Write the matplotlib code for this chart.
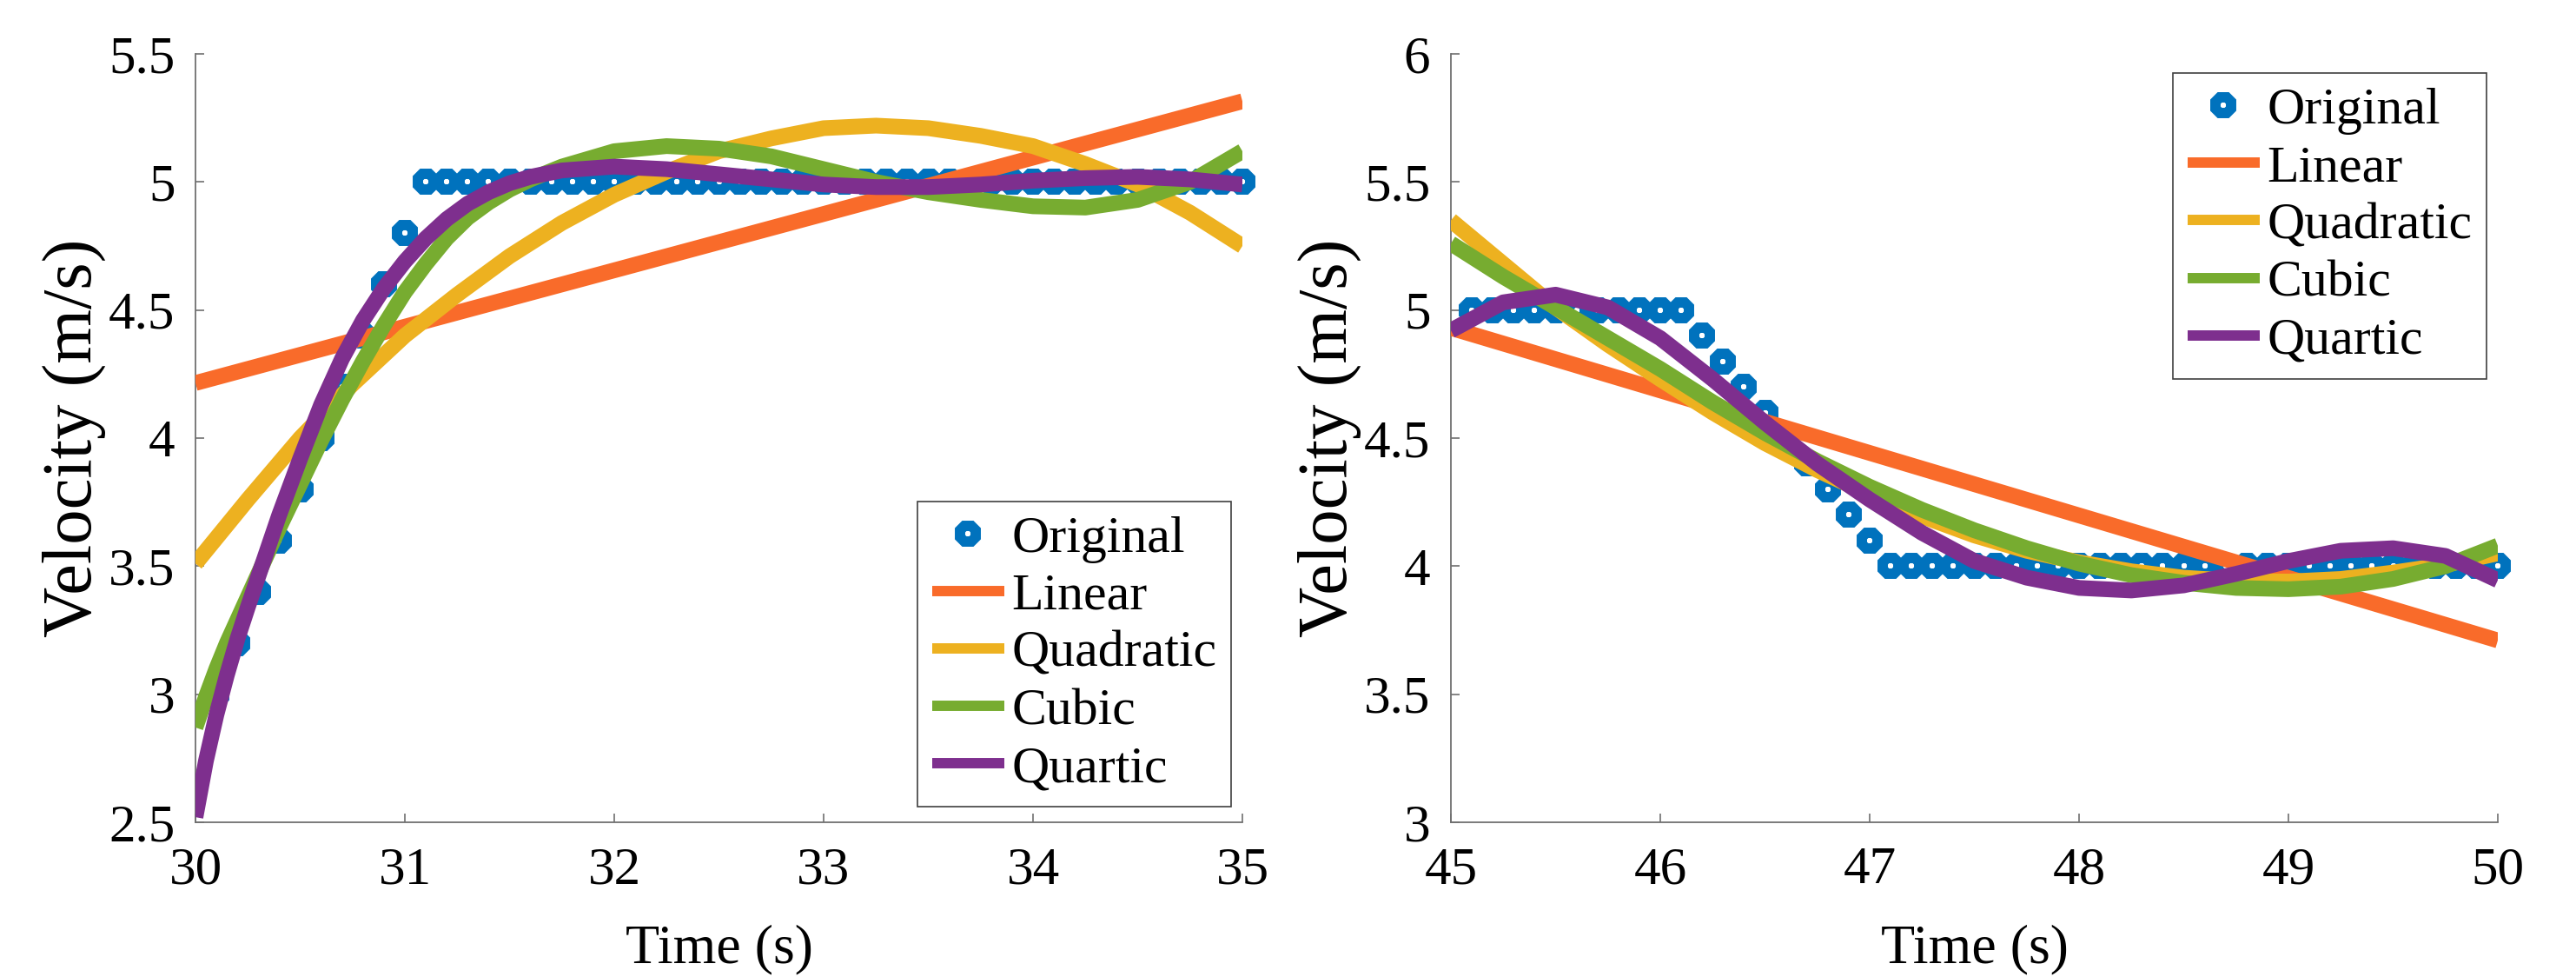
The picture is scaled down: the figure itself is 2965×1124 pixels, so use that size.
import matplotlib
matplotlib.use("Agg")
import matplotlib.pyplot as plt

# ---------------- data ----------------
left_time = [30.1, 30.2, 30.3, 30.4, 30.5, 30.6, 30.7, 30.8, 30.9, 31.0,
             31.1, 31.2, 31.3, 31.4, 31.5, 31.6, 31.7, 31.8, 31.9, 32.0,
             32.1, 32.2, 32.3, 32.4, 32.5, 32.6, 32.7, 32.8, 32.9, 33.0,
             33.1, 33.2, 33.3, 33.4, 33.5, 33.6, 33.7, 33.8, 33.9, 34.0,
             34.1, 34.2, 34.3, 34.4, 34.5, 34.6, 34.7, 34.8, 34.9, 35.0]
left_vel = [3.0, 3.2, 3.4, 3.6, 3.8, 4.0, 4.2, 4.4, 4.6, 4.8,
            5.0, 5.0, 5.0, 5.0, 5.0, 5.0, 5.0, 5.0, 5.0, 5.0,
            5.0, 5.0, 5.0, 5.0, 5.0, 5.0, 5.0, 5.0, 5.0, 5.0,
            5.0, 5.0, 5.0, 5.0, 5.0, 5.0, 5.0, 5.0, 5.0, 5.0,
            5.0, 5.0, 5.0, 5.0, 5.0, 5.0, 5.0, 5.0, 5.0, 5.0]

left_lin_t = [30.0, 35.0]
left_lin_v = [4.215, 5.315]

left_quad_t = [30.0, 30.25, 30.5, 30.75, 31.0, 31.25, 31.5, 31.75, 32.0, 32.25,
               32.5, 32.75, 33.0, 33.25, 33.5, 33.75, 34.0, 34.25, 34.5, 34.75, 35.0]
left_quad_v = [3.51, 3.76, 4.00, 4.21, 4.40, 4.56, 4.71, 4.84, 4.95, 5.04,
               5.12, 5.17, 5.21, 5.22, 5.21, 5.18, 5.14, 5.07, 4.99, 4.88, 4.75]

left_poly_t = [30.0, 30.05, 30.1, 30.15, 30.2, 30.25, 30.3, 30.4, 30.5, 30.6,
               30.7, 30.8, 30.9, 31.0, 31.1, 31.2, 31.3, 31.4, 31.5, 31.6,
               31.75, 32.0, 32.25, 32.5, 32.75, 33.0, 33.25, 33.5, 33.75, 34.0,
               34.25, 34.5, 34.75, 35.0]
left_cubic_v = [2.87, 2.99, 3.10, 3.20, 3.29, 3.38, 3.47, 3.65, 3.82, 3.99,
                4.15, 4.30, 4.44, 4.57, 4.68, 4.78, 4.86, 4.92, 4.97, 5.01,
                5.06, 5.12, 5.14, 5.13, 5.10, 5.05, 5.00, 4.96, 4.93, 4.905,
                4.90, 4.93, 5.00, 5.12]
left_quartic_v = [2.52, 2.74, 2.92, 3.075, 3.215, 3.34, 3.46, 3.70, 3.92, 4.13,
                  4.31, 4.46, 4.585, 4.69, 4.78, 4.855, 4.915, 4.96, 4.995, 5.02,
                  5.045, 5.06, 5.05, 5.03, 5.01, 4.99, 4.98, 4.98, 4.99, 5.005,
                  5.015, 5.02, 5.01, 4.99]

right_time = [45.1, 45.2, 45.3, 45.4, 45.5, 45.6, 45.7, 45.8, 45.9, 46.0,
              46.1, 46.2, 46.3, 46.4, 46.5, 46.6, 46.7, 46.8, 46.9, 47.0,
              47.1, 47.2, 47.3, 47.4, 47.5, 47.6, 47.7, 47.8, 47.9, 48.0,
              48.1, 48.2, 48.3, 48.4, 48.5, 48.6, 48.7, 48.8, 48.9, 49.0,
              49.1, 49.2, 49.3, 49.4, 49.5, 49.6, 49.7, 49.8, 49.9, 50.0]
right_vel = [5.0, 5.0, 5.0, 5.0, 5.0, 5.0, 5.0, 5.0, 5.0, 5.0,
             5.0, 4.9, 4.8, 4.7, 4.6, 4.5, 4.4, 4.3, 4.2, 4.1,
             4.0, 4.0, 4.0, 4.0, 4.0, 4.0, 4.0, 4.0, 4.0, 4.0,
             4.0, 4.0, 4.0, 4.0, 4.0, 4.0, 4.0, 4.0, 4.0, 4.0,
             4.0, 4.0, 4.0, 4.0, 4.0, 4.0, 4.0, 4.0, 4.0, 4.0]

right_lin_t = [45.0, 50.0]
right_lin_v = [4.93, 3.71]

right_poly_t = [45.0, 45.25, 45.5, 45.75, 46.0, 46.25, 46.5, 46.75, 47.0, 47.25,
                47.5, 47.75, 48.0, 48.25, 48.5, 48.75, 49.0, 49.25, 49.5, 49.75, 50.0]
right_quad_v = [5.35, 5.18, 5.01, 4.865, 4.73, 4.60, 4.48, 4.375, 4.28, 4.195,
                4.12, 4.06, 4.015, 3.98, 3.955, 3.942, 3.94, 3.95, 3.975, 4.005, 4.05]
right_cubic_v = [5.26, 5.13, 5.01, 4.89, 4.77, 4.64, 4.52, 4.41, 4.31, 4.22,
                 4.14, 4.07, 4.01, 3.965, 3.935, 3.915, 3.91, 3.92, 3.95, 4.00, 4.08]
right_quartic_v = [4.92, 5.03, 5.06, 5.01, 4.89, 4.73, 4.56, 4.40, 4.26, 4.13,
                   4.02, 3.955, 3.915, 3.905, 3.925, 3.97, 4.02, 4.06, 4.07, 4.04, 3.945]

left_xticks = [30, 31, 32, 33, 34, 35]
left_yticks = [2.5, 3, 3.5, 4, 4.5, 5, 5.5]
left_yticklabels = ["2.5", "3", "3.5", "4", "4.5", "5", "5.5"]
right_xticks = [45, 46, 47, 48, 49, 50]
right_yticks = [3, 3.5, 4, 4.5, 5, 5.5, 6]
right_yticklabels = ["3", "3.5", "4", "4.5", "5", "5.5", "6"]

labels = ["Original", "Linear", "Quadratic", "Cubic", "Quartic"]

# ---------------- style ----------------
plt.rcParams["font.family"] = "serif"
plt.rcParams["font.serif"] = ["Liberation Serif", "DejaVu Serif"]
C_BLUE = "#0072BD"
C_ORANGE = "#F96B2A"
C_YELLOW = "#EDB120"
C_GREEN = "#77AC30"
C_PURPLE = "#7E2F8E"
AX_COL = "#707070"
LW = 13
TICK_FS = 44
XLABEL_FS = 46
YLABEL_FS = 58
LEG_FS = 43

fig = plt.figure(figsize=(29.65, 11.24), dpi=100)
ax1 = fig.add_axes([225 / 2965, 1 - 946 / 1124, 1205 / 2965, 884 / 1124])
ax2 = fig.add_axes([1670 / 2965, 1 - 946 / 1124, 1205 / 2965, 884 / 1124])


def draw(ax, t, v, lt, lv, qt, qv, pt, cv, pv, xlim, ylim, xt, yt, ytl,
         leg_loc, leg_anchor):
    ax.plot(t, v, linestyle="none", marker="8", ms=14.5, mew=8.6,
            mec=C_BLUE, mfc="white", clip_on=False, label=labels[0], zorder=2)
    ax.plot(lt, lv, color=C_ORANGE, lw=LW, solid_capstyle="butt",
            label=labels[1], zorder=3)
    ax.plot(qt, qv, color=C_YELLOW, lw=LW, solid_capstyle="butt",
            solid_joinstyle="round", label=labels[2], zorder=3)
    ax.plot(pt, cv, color=C_GREEN, lw=LW, solid_capstyle="butt",
            solid_joinstyle="round", label=labels[3], zorder=3)
    ax.plot(pt, pv, color=C_PURPLE, lw=LW, solid_capstyle="butt",
            solid_joinstyle="round", label=labels[4], zorder=3)
    ax.set_xlim(*xlim)
    ax.set_ylim(*ylim)
    ax.set_xticks(xt)
    ax.set_xticklabels([str(x) for x in xt])
    ax.set_yticks(yt)
    ax.set_yticklabels(ytl)
    for s in ("top", "right"):
        ax.spines[s].set_visible(False)
    for s in ("left", "bottom"):
        ax.spines[s].set_color(AX_COL)
        ax.spines[s].set_linewidth(1.3)
    ax.tick_params(direction="in", length=7, width=1.2, color=AX_COL,
                   labelsize=TICK_FS, labelcolor="black")
    ax.tick_params(axis="x", pad=20)
    ax.tick_params(axis="y", pad=17)
    ax.set_xlabel("Time (s)", fontsize=XLABEL_FS, va="center")
    ax.set_ylabel("Velocity (m/s)", fontsize=YLABEL_FS, va="center")
    ax.xaxis.set_label_coords(0.5, -0.166)
    ax.yaxis.set_label_coords(-0.116, 0.5)
    leg = ax.legend(loc=leg_loc, bbox_to_anchor=leg_anchor, fontsize=LEG_FS,
                    frameon=True, fancybox=False, edgecolor="#404040",
                    framealpha=1, borderaxespad=0, borderpad=0.27,
                    labelspacing=0.19, handlelength=1.39, handletextpad=0.15,
                    numpoints=1)
    leg.get_frame().set_linewidth(1.2)
    for h in leg.get_lines()[1:]:
        h.set_linewidth(8.6)


draw(ax1, left_time, left_vel, left_lin_t, left_lin_v, left_quad_t, left_quad_v,
     left_poly_t, left_cubic_v, left_quartic_v, (30, 35), (2.5, 5.5),
     left_xticks, left_yticks, left_yticklabels, "lower left", (0.690, 0.020))
draw(ax2, right_time, right_vel, right_lin_t, right_lin_v, right_poly_t,
     right_quad_v, right_poly_t, right_cubic_v, right_quartic_v, (45, 50),
     (3, 6), right_xticks, right_yticks, right_yticklabels, "upper left",
     (0.690, 0.975))

fig.savefig("out.png", dpi=100)
